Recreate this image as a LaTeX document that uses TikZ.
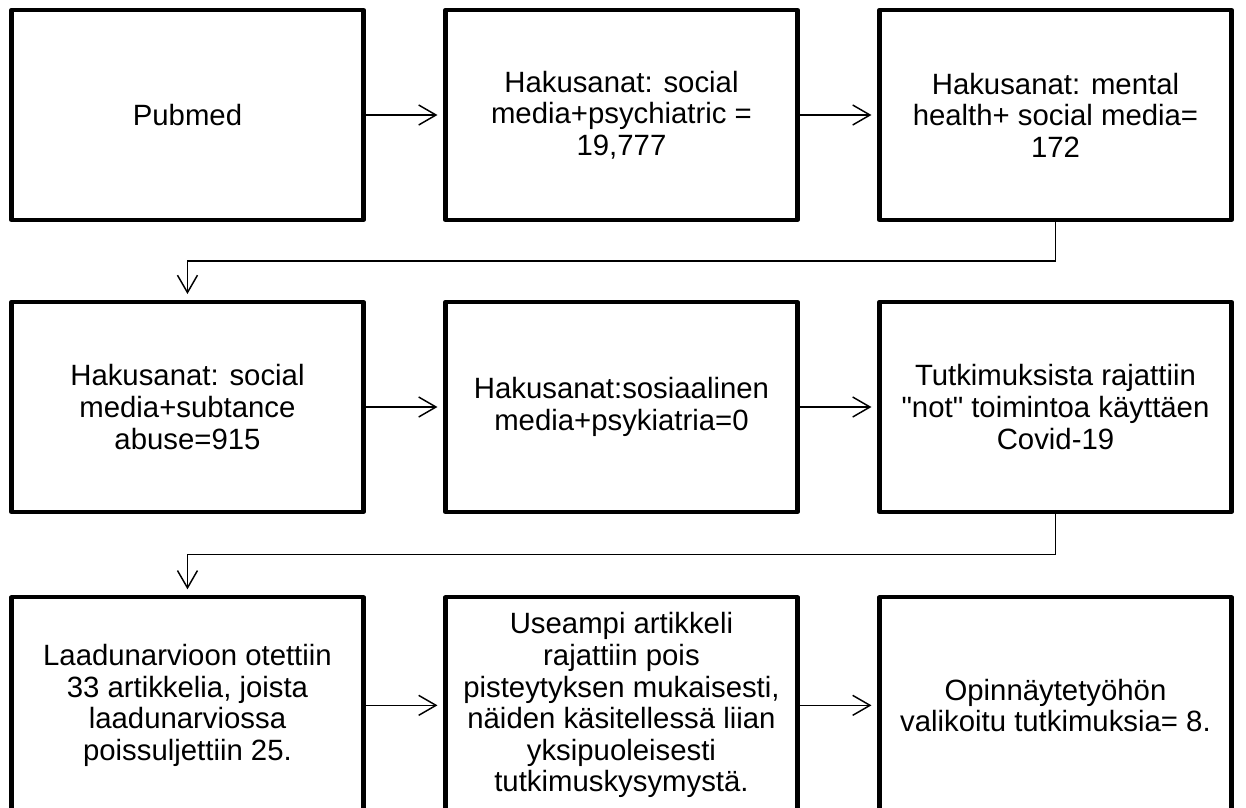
\documentclass[tikz,border=0pt]{standalone}
\usepackage{fontspec}
\setmainfont{Liberation Sans}[Ligatures=TeXOff]
\usetikzlibrary{arrows.meta, positioning}
\tikzstyle{box}=[rectangle, draw, line width=3.2pt, line join=round, outer sep=0pt, minimum width=264pt, minimum height=157.5pt, align=center, font=\fontsize{22pt}{23.7pt}\selectfont]
\tikzstyle{arr}=[-{Straight Barb[length=13pt, width=15pt]}, line width=1.1pt, shorten >=6pt]

\begin{document}
\begin{tikzpicture}[node distance=61.5pt]
\useasboundingbox (0,0) rectangle (934.5pt,-605.25pt);

% Row 1
\node[box] (pubmed) at (140.6pt,-86.25pt) {Pubmed};
\node[box, right=of pubmed] (psych) {Hakusanat: social\\ media+psychiatric =\\ 19,777};
\node[box, right=of psych] (mental) {Hakusanat: mental\\ health+ social media=\\ 172};

% Row 2
\node[box, below=of pubmed] (abuse) {Hakusanat: social\\ media+subtance\\ abuse=915};
\node[box, right=of abuse] (sosiaali) {Hakusanat:sosiaalinen\\ media+psykiatria=0};
\node[box, right=of sosiaali] (covid) {Tutkimuksista rajattiin\\ "not" toimintoa käyttäen\\ Covid-19};

% Row 3 (cut off by the lower edge)
\node[box, minimum height=162pt, below=64pt of abuse] (laatu) {Laadunarvioon otettiin\\ 33 artikkelia, joista\\ laadunarviossa\\ poissuljettiin 25.};
\node[box, minimum height=162pt, right=of laatu] (rajaus) {Useampi artikkeli\\ rajattiin pois\\ pisteytyksen mukaisesti,\\ näiden käsitellessä liian\\ yksipuoleisesti\\ tutkimuskysymystä.};
\node[box, minimum height=162pt, right=of rajaus] (valitut) {Opinnäytetyöhön\\ valikoitu tutkimuksia= 8.};

% Arrows
\draw[arr] (pubmed) -- (psych);
\draw[arr] (psych) -- (mental);
\draw[arr] (mental.south) -- ++(0,-30.75pt) -| (abuse.north);
\draw[arr] (abuse) -- (sosiaali);
\draw[arr] (sosiaali) -- (covid);
\draw[arr] (covid.south) -- ++(0,-32pt) -| (laatu.north);
\draw[arr] (laatu) -- (rajaus);
\draw[arr] (rajaus) -- (valitut);
\end{tikzpicture}
\end{document}
